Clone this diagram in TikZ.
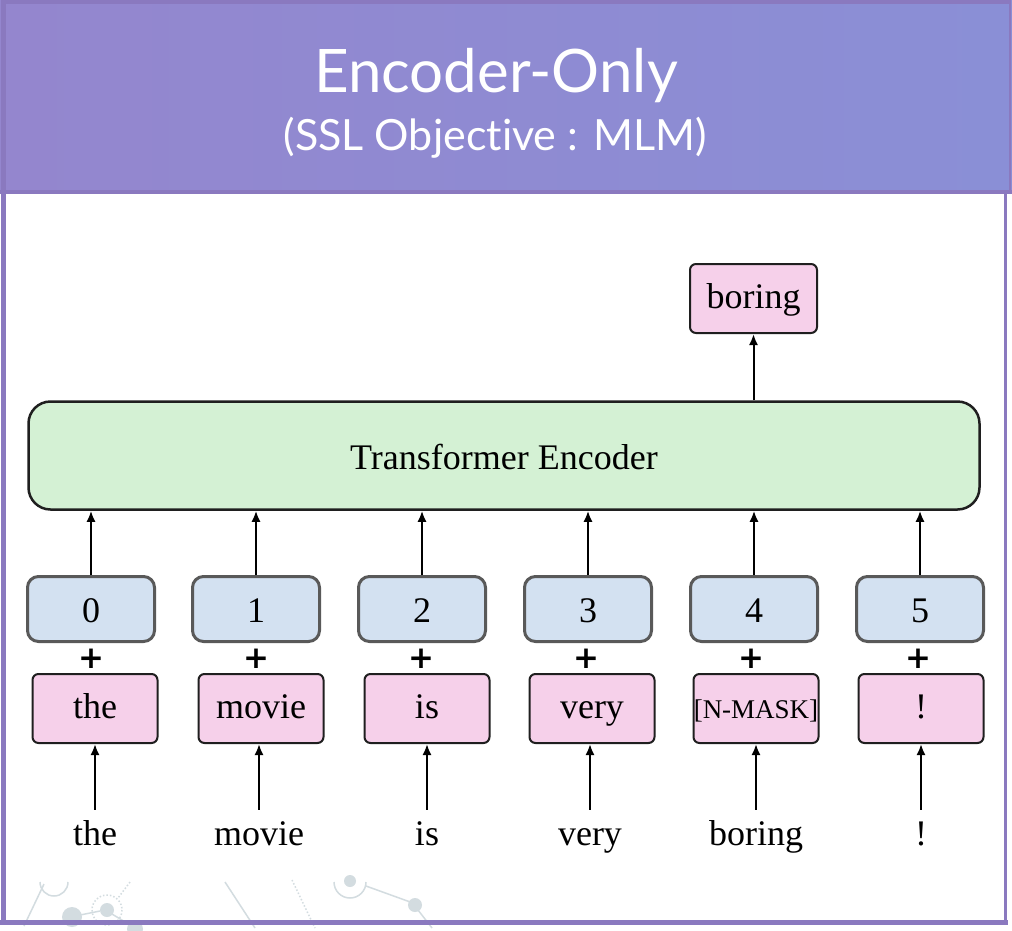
\documentclass[tikz,border=0pt]{standalone}
\usepackage{fontspec}
\setmainfont{Liberation Serif}
\newfontfamily\latofont[Ligatures=NoCommon]{Lato}
\newfontfamily\plusfont{DejaVu Sans}
\usetikzlibrary{arrows.meta}
\definecolor{frame}{HTML}{8A79BF}
\definecolor{hdrL}{HTML}{9486CE}
\definecolor{hdrR}{HTML}{8A8FD6}
\definecolor{pinkfill}{HTML}{F6D0EA}
\definecolor{bluefill}{HTML}{D3E1F1}
\definecolor{greenfill}{HTML}{D4F1D4}
\definecolor{posborder}{HTML}{595959}
\definecolor{deco}{HTML}{D3DCE0}
\begin{document}
\begin{tikzpicture}[x=1pt,y=-1pt,
  tokbox/.style={draw=black!88, line width=2pt, fill=pinkfill, rounded corners=6pt,
    minimum width=125pt, minimum height=69pt, inner sep=0pt,
    text height=27pt, text depth=8pt, font=\fontsize{36}{40}\selectfont},
  maskfont/.style={font=\fontsize{27}{30}\selectfont},
  posbox/.style={draw=posborder, line width=3pt, fill=bluefill, rounded corners=11pt,
    minimum width=127pt, minimum height=65pt, inner sep=0pt,
    text height=30pt, text depth=4pt, font=\fontsize{36}{40}\selectfont},
  encbox/.style={draw=black!88, line width=2.5pt, fill=greenfill, rounded corners=22pt,
    minimum width=951pt, minimum height=108pt, inner sep=0pt,
    text height=30pt, text depth=3pt, font=\fontsize{36}{40}\selectfont},
  word/.style={font=\fontsize{36}{40}\selectfont, inner xsep=0pt, inner ysep=5pt,
    text height=30pt, text depth=8pt},
  plussign/.style={font=\plusfont\bfseries\fontsize{31}{31}\selectfont, inner sep=0pt},
  arr/.style={-{Latex[length=11pt,width=9pt]}, line width=2pt},
  decoline/.style={draw=deco, line width=1.5pt},
  decodot/.style={fill=deco}
]
\useasboundingbox (0,0) rectangle (1012,930);
\fill[white] (0,0) rectangle (1012,930);

% faint background decoration
\draw[decoline] (40,882) arc[start angle=180, end angle=0, radius=14];
\draw[decoline] (44,884) -- (24,926);
\fill[decodot] (72,917) circle[radius=10];
\draw[decoline] (80,915) -- (100,911);
\fill[decodot] (107,910) circle[radius=7];
\draw[decoline, dotted] (107,910) circle[radius=15];
\draw[decoline, dotted] (130,882) -- (118,898);
\draw[decoline] (112,914) -- (135,928);
\fill[decodot] (135,929) circle[radius=8];
\draw[decoline] (225,882) -- (255,928);
\draw[decoline, dotted] (292,880) -- (315,928);
\fill[decodot] (350,881) circle[radius=6];
\draw[decoline] (334,882) arc[start angle=180, end angle=0, radius=16];
\draw[decoline] (366,886) -- (413,903);
\fill[decodot] (415,905) circle[radius=7];
\draw[decoline] (418,910) -- (432,928);

% header
\shade[left color=hdrL, right color=hdrR] (0,0) rectangle (1012,193);
\draw[frame, line width=4pt] (2,2) -- (1010,2);
\draw[frame, line width=4pt] (0,192) -- (1012,192);
\draw[frame, line width=2pt] (1010,0) -- (1010,193);
\node[anchor=base, text=white, font=\latofont\fontsize{60}{64}\selectfont, inner sep=0pt]
  (title) at (496,92) {Encoder-Only};
\node[anchor=base, text=white, font=\latofont\fontsize{43}{46}\selectfont, inner sep=0pt]
  (subtitle) at (495,150) {(SSL Objective : MLM)};

% frame
\draw[frame, line width=5pt] (3,0) -- (3,925);
\draw[frame, line width=5pt] (0,922) -- (1008,922);
\draw[frame, line width=3pt] (1005,192) -- (1005,925);

% encoder and output
\node[encbox] (enc) at (504,455.5) {Transformer Encoder};
\node[tokbox, minimum width=127pt] (out) at (753.5,298.5) {boring};
\draw[arr] (enc.north -| out.south) -- (out.south);

% position boxes
\foreach \i/\x in {0/91,1/256,2/422,3/588,4/754,5/920}{
  \node[posbox] (p\i) at (\x,609) {\i};
  \draw[arr] (p\i.north) -- (p\i.north |- enc.south);
}

% plus signs
\foreach \i/\x in {0/91,1/256,2/421,3/586,4/751,5/918}{
  \node[plussign] (plus\i) at (\x,659) {+};
}

% token boxes and input words
\node[tokbox] (t0) at (95,708.5) {the};
\node[tokbox] (t1) at (261,708.5) {movie};
\node[tokbox] (t2) at (427,708.5) {is};
\node[tokbox] (t3) at (592,708.5) {very};
\node[tokbox, maskfont] (t4) at (756,708.5) {[N-MASK]};
\node[tokbox] (t5) at (921,708.5) {!};

\node[word, anchor=base] (w0) at (95,845) {the};
\node[word, anchor=base] (w1) at (259,845) {movie};
\node[word, anchor=base] (w2) at (427,845) {is};
\node[word, anchor=base] (w3) at (590,845) {very};
\node[word, anchor=base] (w4) at (756,845) {boring};
\node[word, anchor=base] (w5) at (921,845) {!};

\foreach \i in {0,...,5}{
  \draw[arr] (w\i.north) -- (w\i.north |- t\i.south);
}
\end{tikzpicture}
\end{document}
